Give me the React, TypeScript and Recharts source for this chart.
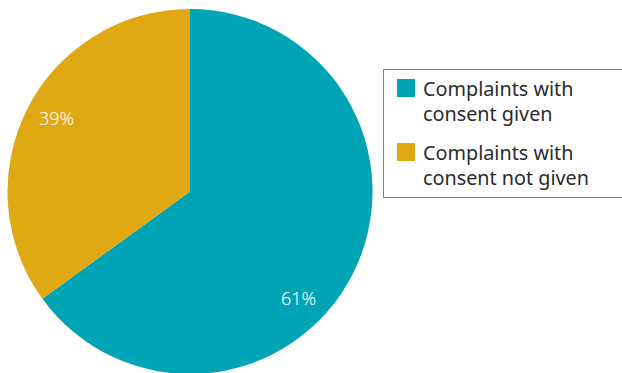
import React from "react";
import { PieChart, Pie, Cell, Legend } from "recharts";

const categories = ["Complaints with consent given", "Complaints with consent not given"];
const legendLines = [
  ["Complaints with", "consent given"],
  ["Complaints with", "consent not given"],
];
// slice sizes as drawn in the picture
const values = [65, 35];
// label text as printed
const labelTexts = ["61%", "39%"];
const colors = ["#00A5B5", "#E0A812"];
// label angle adjustment (degrees) relative to slice mid-angle
const labelShift = [-17.6, -1.8];

const data = categories.map((name, i) => ({ name, value: values[i], label: labelTexts[i] }));

const RAD = Math.PI / 180;

const renderLabel = (props: any) => {
  const { cx, cy, midAngle, outerRadius, index } = props;
  const angle = midAngle + labelShift[index];
  const r = outerRadius * 0.835;
  const x = cx + Math.cos(-angle * RAD) * r;
  const y = cy + Math.sin(-angle * RAD) * r;
  return (
    <text
      x={x}
      y={y}
      fill="#ffffff"
      textAnchor="middle"
      dominantBaseline="central"
      fontSize={18}
      fontWeight={300}
      fontFamily="'Noto Sans', sans-serif"
    >
      {labelTexts[index]}
    </text>
  );
};

const renderLegend = () => (
  <div
    style={{
      boxSizing: "border-box",
      width: 250,
      height: 129,
      border: "1px solid #7f7f7f",
      padding: "6px 0 0 0",
      fontFamily: "'Noto Sans', sans-serif",
      fontSize: 19.8,
      lineHeight: "25px",
      color: "#2b2b2b",
      background: "#fff",
    }}
  >
    {legendLines.map((lines, i) => (
      <div key={i} style={{ position: "relative", paddingLeft: 39, marginTop: i === 0 ? 0 : 13.5 }}>
        <div
          style={{
            position: "absolute",
            left: 13,
            top: 3,
            width: 18,
            height: 18,
            background: colors[i],
          }}
        />
        {lines.map((l, j) => (
          <div key={j} style={{ whiteSpace: "nowrap" }}>
            {l}
          </div>
        ))}
      </div>
    ))}
  </div>
);

export default function App() {
  return (
    <div style={{ position: "absolute", left: 0, top: 0, width: 622, height: 373, background: "#fff", overflow: "hidden" }}>
      <PieChart width={622} height={373} margin={{ top: 0, right: 0, bottom: 0, left: 0 }}>
        <Pie
          data={data}
          dataKey="value"
          nameKey="name"
          cx={190}
          cy={191.5}
          outerRadius={182.5}
          startAngle={90}
          endAngle={-270}
          stroke="none"
          label={renderLabel}
          labelLine={false}
          isAnimationActive={false}
        >
          {data.map((d, i) => (
            <Cell key={d.name} fill={colors[i]} />
          ))}
        </Pie>
        <Legend
          content={renderLegend}
          wrapperStyle={{ position: "absolute", left: 383, top: 69, width: 250, height: 129 }}
        />
      </PieChart>
    </div>
  );
}
